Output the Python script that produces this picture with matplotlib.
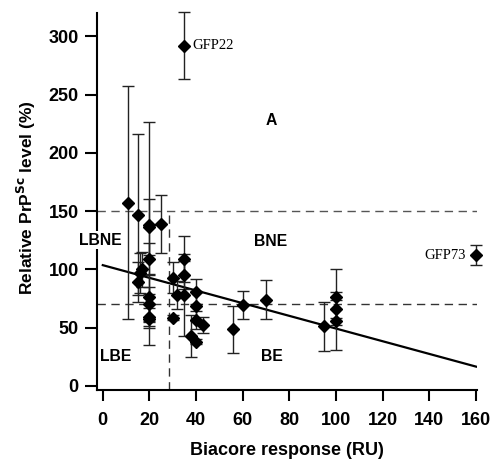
import numpy as np
import matplotlib
matplotlib.use("Agg")
import matplotlib.pyplot as plt

plt.rcParams['font.family'] = ['Liberation Sans', 'DejaVu Sans']

# Biacore response (RU), relative PrPSc level (%), error (+/-)
biacore = [11, 15, 15, 16, 17, 20, 20, 20, 20, 20, 20, 20, 25,
           30, 30, 32, 35, 35, 35, 38, 40, 40, 40, 40, 43,
           56, 60, 70, 95, 100, 100, 100]
prp_level = [157, 147, 89, 97, 100, 138, 136, 109, 76, 70, 59, 57, 139,
             93, 58.5, 78, 109, 95, 78, 43, 81, 68.5, 56.5, 38, 52,
             48.5, 69.5, 74, 51, 76, 66, 56]
prp_err = [100, 69, 17, 17, 15, 88, 24, 14, 20, 15, 8, 22, 25,
           13, 2, 12, 20, 12, 35, 18, 11, 13, 8, 2, 7,
           20, 12, 17, 21, 24, 8, 25]

# labelled outliers
named = ['GFP22', 'GFP73']
named_x = [35, 160]
named_y = [292, 112]
named_err = [29, 8.5]

# regression line
fit_intercept = 103.6
fit_slope = -0.544

# region thresholds
level_hi = 150
level_lo = 70
resp_cut = 28.5

fig = plt.figure(figsize=(4.92, 4.61), dpi=100)
ax = fig.add_axes([0.1966, 0.154, 0.7724, 0.818])

ax.errorbar(biacore, prp_level, yerr=prp_err, fmt='D', color='black',
            ms=6, ecolor='#222222', elinewidth=1, capsize=4.5,
            capthick=1, zorder=3)
ax.errorbar(named_x, named_y, yerr=named_err, fmt='D', color='black',
            ms=6, ecolor='#222222', elinewidth=1, capsize=4.5,
            capthick=1, zorder=3, clip_on=False)

ax.text(named_x[0] + 3.6, named_y[0], named[0], family='Liberation Serif',
        fontsize=10.5, va='center', ha='left')
ax.text(named_x[1] - 4.3, named_y[1], named[1], family='Liberation Serif',
        fontsize=10.5, va='center', ha='right')

xx = np.array([0, 160])
ax.plot(xx, fit_intercept + fit_slope * xx, color='black', lw=1.6, zorder=2)

ax.axhline(level_hi, color='#555555', lw=1, ls=(0, (6, 4)), zorder=1)
ax.axhline(level_lo, color='#333333', lw=1, ls=(0, (6, 4)), zorder=1)
ax.plot([resp_cut, resp_cut], [-3.5, level_hi], color='#333333', lw=1,
        ls=(0, (6, 4)), zorder=1)

lab = dict(fontsize=11.3, fontweight='bold', ha='center', va='center')
ax.text(72.4, 228, 'A', **lab)
ax.text(72, 124, 'BNE', **lab)
ax.text(72.4, 25, 'BE', **lab)
ax.text(5.3, 25, 'LBE', **lab)
ax.text(-1.2, 125, 'LBNE', bbox=dict(facecolor='white', edgecolor='none', pad=1),
        zorder=5, **lab)

ax.set_xlim(-2.6, 160.3)
ax.set_ylim(-3.5, 320)
ax.set_xticks(np.arange(0, 161, 20))
ax.set_yticks(np.arange(0, 301, 50))

for s in ['top', 'right']:
    ax.spines[s].set_visible(False)
for s in ['left', 'bottom']:
    ax.spines[s].set_linewidth(1.5)

ax.tick_params(axis='both', width=1.5, labelsize=13)
ax.tick_params(axis='x', length=8, pad=8)
ax.tick_params(axis='y', length=9, pad=4)
for t in ax.get_xticklabels() + ax.get_yticklabels():
    t.set_fontweight('bold')

ax.set_xlabel('Biacore response (RU)', fontsize=13, fontweight='bold', labelpad=9)
ax.set_ylabel('Relative PrP$^{\\mathbf{Sc}}$ level (%)', fontsize=12.5,
              fontweight='bold')
ax.yaxis.set_label_coords(-0.155, 0.51)

fig.savefig('out.png', dpi=100)
